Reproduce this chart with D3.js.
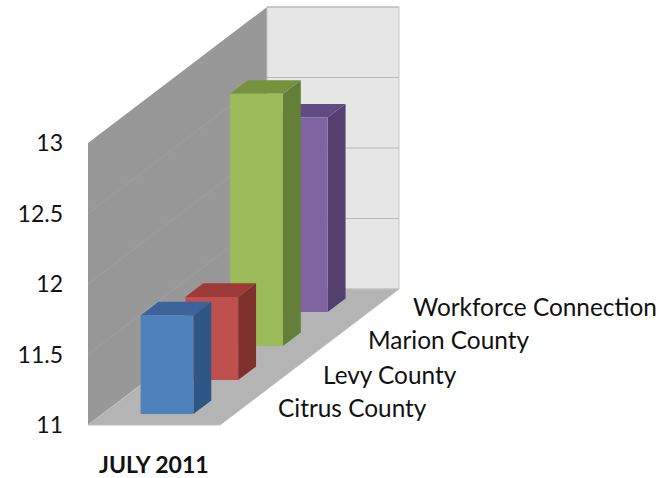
<!DOCTYPE html>
<html>
<head>
<meta charset="utf-8">
<script src="https://cdnjs.cloudflare.com/ajax/libs/d3/7.8.5/d3.min.js"></script>
<style>
html,body{margin:0;padding:0;background:#fff;}
svg{display:block;font-family:Lato,"Open Sans",sans-serif;}
</style>
</head>
<body>
<svg id="chart" width="661" height="478"></svg>
<script>
// Unemployment rate by area, July 2011
const categories = ["Citrus County", "Levy County", "Marion County", "Workforce Connection"];
const values = [11.7, 11.59, 12.79, 12.38];
const axisTicks = [11, 11.5, 12, 12.5, 13];
const periodLabel = "JULY 2011";

const faceColors = ["#4f81bd", "#c0504d", "#9bbb59", "#8064a2"];
const topColors = ["#3c649a", "#9c3a37", "#76923c", "#624a82"];
const sideColors = ["#2f5585", "#7f2f2c", "#647f38", "#53406e"];

const svg = d3.select("#chart");

// Oblique projection: front plane scales plus a depth offset
const x = d3.scaleLinear().domain([0, 1]).range([88, 220]);
const y = d3.scaleLinear().domain([11, 13]).range([425, 143]);
const depth = d3.scaleLinear().domain([0, 1]).range([0, 179]);
const lift = d3.scaleLinear().domain([0, 1]).range([0, 136]);
const slot = d3.scaleBand().domain(categories).range([0, 1]);

const pt = (fx, fd, v) => [x(fx) + depth(fd), y(v) - lift(fd)];
const poly = pts => "M" + pts.map(p => p.join(",")).join("L") + "Z";

const [v0, v1] = y.domain();

// Walls and floor
svg.append("path")
  .attr("d", poly([pt(0,0,v0), pt(0,1,v0), pt(0,1,v1), pt(0,0,v1)]))
  .attr("fill", "#989898");
svg.append("path")
  .attr("d", poly([pt(0,1,v0), pt(1,1,v0), pt(1,1,v1), pt(0,1,v1)]))
  .attr("fill", "#e6e6e6").attr("stroke", "#c4c4c4").attr("stroke-width", 1);
svg.append("path")
  .attr("d", poly([pt(0,0,v0), pt(1,0,v0), pt(1,1,v0), pt(0,1,v0)]))
  .attr("fill", "#b4b4b4").attr("stroke", "#c0c0c0").attr("stroke-width", 1);

// Gridlines: faint on the side wall, stronger across the back wall
const gridTicks = axisTicks.slice(1);
svg.append("g").selectAll("path").data(gridTicks).join("path")
  .attr("d", t => d3.line()([pt(0,1,t), pt(1,1,t)]))
  .attr("fill", "none").attr("stroke", "#b8b8b8").attr("stroke-width", 1.2);
svg.append("g").selectAll("path").data(gridTicks.slice(0, -1)).join("path")
  .attr("d", t => d3.line()([pt(0,0,t), pt(0,1,t)]))
  .attr("fill", "none").attr("stroke", "#a0a0a0").attr("stroke-width", 1);

// Bars, painted from the back row to the front
const bars = categories.map((c, i) => ({c, v: values[i], i})).reverse();
const g = svg.append("g").selectAll("g").data(bars).join("g");
const inset = 0.29, barW = 0.4, barD = 0.1, firstD = 0.08;
const frontD = d => slot(d.c) + firstD;
g.append("path")
  .attr("d", d => poly([pt(inset+barW,frontD(d),v0), pt(inset+barW,frontD(d)+barD,v0), pt(inset+barW,frontD(d)+barD,d.v), pt(inset+barW,frontD(d),d.v)]))
  .attr("fill", d => sideColors[d.i]);
g.append("path")
  .attr("d", d => poly([pt(inset,frontD(d),d.v), pt(inset+barW,frontD(d),d.v), pt(inset+barW,frontD(d)+barD,d.v), pt(inset,frontD(d)+barD,d.v)]))
  .attr("fill", d => topColors[d.i]);
g.append("path")
  .attr("d", d => poly([pt(inset,frontD(d),v0), pt(inset+barW,frontD(d),v0), pt(inset+barW,frontD(d),d.v), pt(inset,frontD(d),d.v)]))
  .attr("fill", d => faceColors[d.i]);

// Value-axis labels follow the front edge of the side wall
svg.append("g").selectAll("text").data(axisTicks).join("text")
  .attr("x", 63).attr("y", d => y(d)).attr("dy", "0.35em")
  .attr("text-anchor", "end").attr("font-size", 23).attr("fill", "#111")
  .text(d => d);

// Depth-axis labels step up the floor's right edge
const catX = d3.scaleOrdinal().domain(categories).range([278, 323, 368, 413]);
const catY = d3.scaleOrdinal().domain(categories).range([408, 375, 340, 307]);
svg.append("g").selectAll("text").data(categories).join("text")
  .attr("x", d => catX(d)).attr("y", d => catY(d)).attr("dy", "0.35em")
  .attr("font-size", 24.4).attr("fill", "#111")
  .text(d => d);

svg.append("text")
  .attr("x", 99).attr("y", 465).attr("dy", "0.35em")
  .attr("font-size", 23).attr("font-weight", 700).attr("fill", "#111")
  .text(periodLabel);
</script>
</body>
</html>
